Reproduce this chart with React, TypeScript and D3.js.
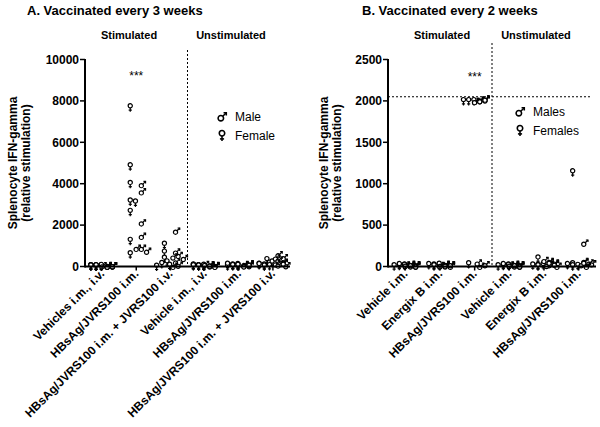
import React from "react";
import * as d3 from "d3";

// ---------- Data ----------
const categoriesA = [
  "Vehicles i.m., i.v.",
  "HBsAg/JVRS100 i.m.",
  "HBsAg/JVRS100 i.m. + JVRS100 i.v.",
  "Vehicle i.m., i.v.",
  "HBsAg/JVRS100 i.m.",
  "HBsAg/JVRS100 i.m. + JVRS100 i.v.",
];
const femaleA = [
  [20, 10, 30, 0, 15, 25, 5, 40, 10, 20],
  [7700, 4850, 4000, 3150, 3100, 2650, 1250, 600],
  [1060, 680, 390, 210, 130, 50, 0],
  [30, 10, 60, 20, 0, 40, 15, 50, 25],
  [40, 80, 20, 60, 10, 100, 30, 50],
  [320, 150, 60, 100, 30, 200, 10, 80],
];
const maleA = [
  [10, 30, 0, 20, 45, 15, 5, 35, 25, 10],
  [3950, 3600, 2100, 1450, 870, 730, 870],
  [1700, 690, 530, 450, 380, 210, 50, 0],
  [20, 40, 70, 10, 50, 30, 60, 0, 90],
  [60, 30, 90, 120, 40, 80, 20, 100],
  [560, 420, 400, 300, 200, 120, 60, 30, 150],
];
const ticksA = [0, 2000, 4000, 6000, 8000, 10000];

const categoriesB = [
  "Vehicle i.m.",
  "Energix B i.m.",
  "HBsAg/JVRS100 i.m.",
  "Vehicle i.m.",
  "Energix B i.m.",
  "HBsAg/JVRS100 i.m.",
];
const femaleB = [
  [10, 15, 5, 20, 10],
  [15, 10, 20, 5, 25],
  [2000, 2000, 2000, 30],
  [10, 15, 5, 20, 10],
  [10, 20, 100, 15, 5],
  [1140, 30, 10, 20, 5],
];
const maleB = [
  [10, 20, 5, 15, 25, 0, 10, 20, 5, 15],
  [5, 15, 25, 10, 20, 0, 10, 15, 20, 5],
  [2010, 2020, 2000, 2010, 1990, 2000, 2020, 1990, 0, 20, 40],
  [10, 20, 5, 15, 25, 0, 10, 20, 5, 15],
  [60, 40, 20, 70, 10, 30, 50, 0, 25],
  [280, 60, 40, 20, 10, 30, 50, 0],
];
const ticksB = [0, 500, 1000, 1500, 2000, 2500];

const FONT = "'Liberation Sans', Arial, Helvetica, sans-serif";

// ---------- Symbols ----------
function FemaleSym({ x, y, s = 1 }: { x: number; y: number; s?: number }) {
  return (
    <g transform={`translate(${x},${y}) scale(${s})`} stroke="#000" strokeWidth={1.2} fill="#fff">
      <circle cx={0} cy={-1.3} r={2.1} />
      <line x1={0} y1={0.8} x2={0} y2={4.6} />
      <line x1={-1.6} y1={3} x2={1.6} y2={3} />
    </g>
  );
}
function MaleSym({ x, y, s = 1 }: { x: number; y: number; s?: number }) {
  return (
    <g transform={`translate(${x},${y}) scale(${s})`} stroke="#000" strokeWidth={1.2} fill="#fff">
      <circle cx={-0.9} cy={0.9} r={2.1} />
      <line x1={0.6} y1={-0.6} x2={3.3} y2={-3.3} />
      <polyline points="1.2,-3.3 3.3,-3.3 3.3,-1.2" fill="none" />
    </g>
  );
}

type Pt = { x: number; y: number; sex: "f" | "m" };

function swarm(center: number, fv: number[], mv: number[], y: (v: number) => number): Pt[] {
  const placed: Pt[] = [];
  const step = 2.6;
  const minD = 4.2;
  const place = (vals: number[], sex: "f" | "m") => {
    const base = sex === "f" ? -6 : 6;
    const lo = sex === "f" ? -15 : -1;
    const hi = sex === "f" ? 1 : 15;
    const cands: number[] = [];
    for (let k = 0; k < 12; k++) {
      const offs = k === 0 ? [0] : [k, -k];
      offs.forEach((o) => {
        const v = base + o * step;
        if (v >= lo && v <= hi) cands.push(v);
      });
    }
    vals.forEach((v) => {
      const py = y(v);
      let best = cands[0];
      let bestC = Infinity;
      for (const c of cands) {
        const px = center + c;
        let count = 0;
        for (const p of placed) {
          const dx = p.x - px;
          const dy = p.y - py;
          if (dx * dx + dy * dy < minD * minD) count++;
        }
        if (count < bestC) {
          bestC = count;
          best = c;
          if (count === 0) break;
        }
      }
      placed.push({ x: center + best, y: py, sex });
    });
  };
  place(fv, "f");
  place(mv, "m");
  return placed;
}

type PanelProps = {
  title: string;
  titleX: number;
  categories: string[];
  fem: number[][];
  mal: number[][];
  ticks: number[];
  yMax: number;
  x0: number;
  x1: number;
  yLabelX: number;
  stimX: number;
  unstimX: number;
  dashTop: number;
  hLine?: number;
  hLineEnd?: number;
  starIdx: number;
  starY: number;
  legendX: number;
  legendY: number;
  legendLabels: string[];
};

function Panel(p: PanelProps) {
  const yTop = 59.5;
  const yBot = 266.5;
  const y = d3.scaleLinear().domain([0, p.yMax]).range([yBot, yTop]);
  const x = d3
    .scaleBand<number>()
    .domain(d3.range(p.categories.length))
    .range([p.x0, p.x1]);
  const bw = x.bandwidth();
  const centers = p.categories.map((_, i) => (x(i) as number) + bw / 2);
  const divX = x(3) as number;
  const pts = p.categories.flatMap((_, i) => swarm(centers[i], p.fem[i], p.mal[i], y));
  const midY = (yTop + yBot) / 2;

  return (
    <g fontFamily={FONT}>
      <text x={p.titleX} y={15} fontSize={13} fontWeight="bold">
        {p.title}
      </text>
      <text x={p.stimX} y={39} fontSize={11} fontWeight="bold" textAnchor="middle">
        Stimulated
      </text>
      <text x={p.unstimX} y={39} fontSize={11} fontWeight="bold" textAnchor="middle">
        Unstimulated
      </text>
      {/* y label */}
      <text
        transform={`translate(${p.yLabelX},${midY}) rotate(-90)`}
        fontSize={12}
        fontWeight="bold"
        textAnchor="middle"
      >
        <tspan x={0} dy={0}>Splenocyte IFN-gamma</tspan>
        <tspan x={0} dy={13}>(relative stimulation)</tspan>
      </text>
      {/* dashed lines */}
      <line x1={divX} x2={divX} y1={p.dashTop} y2={yBot} stroke="#000" strokeWidth={1} strokeDasharray="2,2" />
      {p.hLine !== undefined && (
        <line
          x1={p.x0}
          x2={p.hLineEnd}
          y1={y(p.hLine)}
          y2={y(p.hLine)}
          stroke="#000"
          strokeWidth={1}
          strokeDasharray="2,2"
        />
      )}
      {/* points */}
      {pts.map((pt, i) =>
        pt.sex === "f" ? <FemaleSym key={i} x={pt.x} y={pt.y} /> : <MaleSym key={i} x={pt.x} y={pt.y} />
      )}
      {/* y axis */}
      <line x1={p.x0} x2={p.x0} y1={yTop - 0.5} y2={yBot + 1} stroke="#000" strokeWidth={2} />
      {p.ticks.map((t) => (
        <g key={t}>
          <line x1={p.x0 - 5} x2={p.x0} y1={y(t)} y2={y(t)} stroke="#000" strokeWidth={1.5} />
          <text x={p.x0 - 6} y={y(t) + 4.3} fontSize={12} fontWeight="bold" textAnchor="end">
            {t}
          </text>
        </g>
      ))}
      {/* x axis */}
      <line x1={p.x0} x2={p.x1} y1={yBot} y2={yBot} stroke="#000" strokeWidth={2} />
      {centers.map((c, i) => (
        <g key={i}>
          <line x1={c} x2={c} y1={yBot} y2={yBot + 4} stroke="#000" strokeWidth={1.5} />
          <text
            transform={`translate(${c + 3},${yBot + 8}) rotate(-45)`}
            fontSize={12}
            fontWeight="bold"
            textAnchor="end"
          >
            {p.categories[i]}
          </text>
        </g>
      ))}
      {/* significance */}
      <text x={centers[p.starIdx]} y={p.starY} fontSize={12} textAnchor="middle">
        ***
      </text>
      {/* legend */}
      <MaleSym x={p.legendX} y={p.legendY} s={1.3} />
      <text x={p.legendX + 13} y={p.legendY + 4} fontSize={12}>
        {p.legendLabels[0]}
      </text>
      <FemaleSym x={p.legendX} y={p.legendY + 18} s={1.3} />
      <text x={p.legendX + 13} y={p.legendY + 23} fontSize={12}>
        {p.legendLabels[1]}
      </text>
    </g>
  );
}

export default function App() {
  return (
    <div style={{ position: "absolute", left: 0, top: 0 }}>
      <svg width={600} height={427} style={{ display: "block", background: "#fff" }}>
        <Panel
          title="A. Vaccinated every 3 weeks"
          titleX={27}
          categories={categoriesA}
          fem={femaleA}
          mal={maleA}
          ticks={ticksA}
          yMax={10000}
          x0={85}
          x1={290}
          yLabelX={17}
          stimX={129}
          unstimX={231}
          dashTop={50}
          starIdx={1}
          starY={80}
          legendX={222}
          legendY={117}
          legendLabels={["Male", "Female"]}
        />
        <Panel
          title="B. Vaccinated every 2 weeks"
          titleX={362}
          categories={categoriesB}
          fem={femaleB}
          mal={maleB}
          ticks={ticksB}
          yMax={2500}
          x0={388}
          x1={596}
          yLabelX={328}
          stimX={442}
          unstimX={536}
          dashTop={43}
          hLine={2050}
          hLineEnd={590}
          starIdx={2}
          starY={81}
          legendX={520}
          legendY={112}
          legendLabels={["Males", "Females"]}
        />
      </svg>
    </div>
  );
}
